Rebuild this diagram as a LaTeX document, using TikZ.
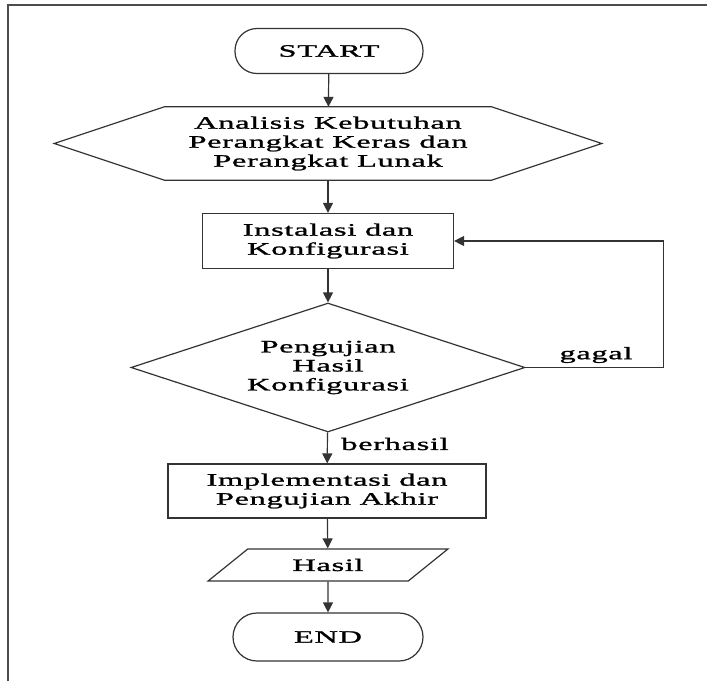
\documentclass[tikz,border=0pt]{standalone}
\usepackage{fontspec}
\setmainfont{Liberation Serif}[FakeStretch=1.85,LetterSpace=4,FakeBold=1.3]
\usetikzlibrary{shapes.geometric,arrows.meta}

\begin{document}
\begin{tikzpicture}[x=1pt,y=-1pt,
  every node/.style={font=\fontsize{17.5}{19}\selectfont,align=center,inner sep=0pt},
  line/.style={draw=black!80,line width=1.2pt},
  term/.style={line,rounded corners=22pt,minimum width=188pt,minimum height=45pt},
  procbox/.style={line,rectangle,minimum height=55pt},
  decbox/.style={line,diamond,aspect=3.05,minimum width=394pt,minimum height=129pt},
  iobox/.style={line,trapezium,trapezium left angle=35,trapezium right angle=145,
    trapezium stretches=true,minimum width=240pt,minimum height=32pt},
  arr/.style={line,-{Triangle[width=10pt,length=10pt]}}]
  \useasboundingbox (0,0) rectangle (707,681);
  \draw[draw=black!70,line width=1.5pt] (8,681) -- (8,5) -- (707,5);
  \node[term] (start) at (329,51) {START};
  \node[minimum width=327pt,minimum height=73pt] (anal) at (328,143.5)
    {Analisis Kebutuhan\\Perangkat Keras dan\\Perangkat Lunak};
  \draw[line] (anal.north west) -- (anal.north east) -- ([xshift=110pt]anal.east)
    -- (anal.south east) -- (anal.south west) -- ([xshift=-110pt]anal.west) -- cycle;
  \node[procbox,minimum width=251pt] (inst) at (328,241) {Instalasi dan\\Konfigurasi};
  \node[decbox] (uji) at (328,367.5) {Pengujian\\Hasil\\Konfigurasi};
  \node[procbox,minimum width=318pt,minimum height=54pt] (impl) at (327,491)
    {Implementasi dan\\Pengujian Akhir};
  \node[iobox] (hasil) at (328,565) {Hasil};
  \node[term,minimum width=190pt,minimum height=48pt,rounded corners=24pt] (end) at (328,637) {END};
  \node (gagal) at (596,355) {gagal};
  \node (ok) at (395,444) {berhasil};
  \draw[arr] (start) -- (anal);
  \draw[arr] (anal) -- (inst);
  \draw[arr] (inst) -- (uji);
  \draw[arr] (uji.east) -- ++(138,0) |- (inst.east);
  \draw[arr] (uji) -- (impl);
  \draw[arr] (impl) -- (hasil);
  \draw[arr] (hasil) -- (end);
\end{tikzpicture}
\end{document}
